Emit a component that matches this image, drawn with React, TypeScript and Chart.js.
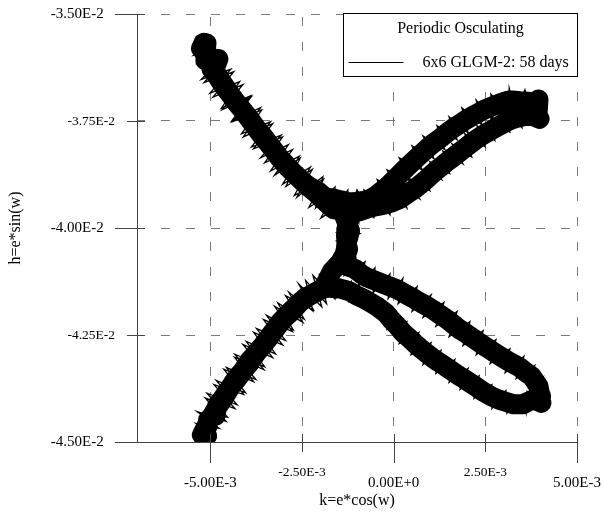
import { useEffect, useRef } from "react";
import { Chart, registerables } from "chart.js";

Chart.register(...registerables);

// Eccentricity-vector trajectory, k = e*cos(w) and h = e*sin(w), both in units of 1e-3.
// upper-left end, upper arc (outer + inner strand), crossing, lower arc (upper + lower strand),
// lower-left branch down and back up, crossing, upper-left branch back up.
const kMilli = [
  -5.12, -5.39, -4.98, -5.45, -4.90, -5.34, -4.93,
  -4.63, -5.17, -4.36, -4.93, -4.11, -4.68, -3.88, -4.40, -3.60, -4.10,
  -3.30, -3.82, -3.03, -3.52, -2.76, -3.25, -2.55, -2.94, -2.22, -2.64,
  -1.93, -2.13,
  -1.60, -1.60, -1.25, -1.22, -1.00, -0.65, -0.81, -0.21,
  -0.45, 0.12, -0.18, 0.45, 0.15, 0.77, 0.50, 1.10, 0.80, 1.40,
  1.18, 1.73, 1.51, 2.03, 1.86, 2.41, 2.25, 2.71, 2.65, 3.12,
  3.15, 3.31, 3.58,
  3.77, 3.88, 4.02, 3.83, 4.05,
  3.91, 3.52, 3.50, 3.12, 3.17, 2.65, 2.76, 2.27, 2.49, 1.94,
  2.13, 1.59, 1.89, 1.34, 1.53, 0.99, 1.31, 0.77, 0.99, 0.44,
  0.71, 0.19, 0.36, -0.05, -0.10, -0.46, -0.54, -0.92, -0.95, -1.25,
  -1.46, -0.92, -1.55, -1.03, -1.46, -1.14,
  -1.35, -0.78, -0.97, -0.51, -0.56, -0.10, -0.15, 0.25, 0.12, 0.64,
  0.50, 1.02, 0.80, 1.37, 1.15, 1.73, 1.51, 2.08, 1.89, 2.44,
  2.25, 2.79, 2.63, 3.17, 3.04, 3.55, 3.34, 3.85, 3.69,
  4.07, 3.83, 4.13, 3.91, 4.07,
  3.99, 3.64, 3.61, 3.47, 3.09, 3.06, 2.68, 2.68, 2.19, 2.33,
  1.81, 2.03, 1.51, 1.67, 1.15, 1.29, 0.80, 1.02, 0.47, 0.69,
  0.15, 0.36, -0.18, 0.06, -0.48, -0.37, -0.81, -0.78, -1.22, -1.16,
  -1.55, -1.57,
  -1.60, -2.20, -1.96, -2.59, -2.19, -2.95, -2.48, -3.25, -2.76, -3.55,
  -3.03, -3.82, -3.30, -4.11, -3.54, -4.34, -3.82, -4.63, -4.09, -4.90,
  -4.33, -5.14, -4.57,
  -5.36, -4.76, -5.39, -4.87, -5.31, -5.04, -5.42, -4.74, -5.20,
  -4.53, -5.09, -4.27, -4.84, -4.04, -4.56, -3.76, -4.33, -3.52, -4.02,
  -3.22, -3.74, -2.95, -3.47, -2.74, -3.16, -2.44, -2.86, -2.20, -2.40,
  -1.83, -2.03,
  -1.33, -1.60, -1.08, -1.52, -1.05, -1.55, -1.03, -1.44,
  -1.28, -1.99, -1.59, -2.31, -1.91, -2.71, -2.27, -3.03, -2.57, -3.36,
  -2.87, -3.63, -3.07, -3.88, -3.36, -4.15, -3.63, -4.42, -3.90, -4.70,
  -4.20, -5.01, -4.44, -5.25, -4.69, -5.34, -4.93, -5.28,
];

const hMilli = [
  -35.89, -35.72, -35.63, -35.96, -35.84, -36.14, -36.03,
  -36.07, -36.60, -36.35, -36.94, -36.65, -37.24, -36.93, -37.52, -37.24, -37.87,
  -37.56, -38.15, -37.87, -38.48, -38.17, -38.77, -38.37, -39.03, -38.63, -39.28,
  -38.80, -39.53,
  -39.04, -39.60, -39.11, -39.69, -39.11, -39.62, -39.11, -39.41,
  -38.87, -39.18, -38.64, -38.90, -38.36, -38.64, -38.08, -38.38, -37.85, -38.17,
  -37.61, -37.94, -37.40, -37.78, -37.19, -37.59, -37.01, -37.45, -36.87, -37.31,
  -36.73, -37.31, -36.77,
  -37.33, -36.84, -37.15, -37.47, -37.33,
  -37.57, -37.13, -37.66, -37.22, -37.76, -37.43, -37.96, -37.61, -38.10, -37.80,
  -38.34, -38.03, -38.50, -38.20, -38.73, -38.45, -38.87, -38.62, -39.13, -38.85,
  -39.32, -38.99, -39.53, -39.13, -39.69, -39.23, -39.76, -39.34, -39.88, -39.41,
  -39.99, -40.13, -40.30, -40.41, -40.58, -40.69,
  -41.11, -40.79, -41.37, -40.93, -41.51, -41.07, -41.65, -41.18, -41.77, -41.37,
  -41.95, -41.56, -42.09, -41.74, -42.30, -41.95, -42.54, -42.19, -42.75, -42.40,
  -42.96, -42.61, -43.17, -42.82, -43.38, -43.00, -43.52, -43.21, -43.73,
  -43.49, -43.91, -43.77, -44.10, -43.98,
  -44.19, -43.82, -44.33, -43.91, -44.33, -43.80, -44.22, -43.66, -43.98, -43.45,
  -43.77, -43.28, -43.61, -43.07, -43.40, -42.86, -43.19, -42.68, -42.96, -42.44,
  -42.70, -42.19, -42.37, -41.93, -42.05, -41.65, -41.88, -41.44, -41.72, -41.25,
  -41.63, -41.16,
  -41.66, -41.11, -41.84, -41.31, -41.91, -41.58, -42.20, -41.83, -42.42, -42.14,
  -42.73, -42.44, -43.03, -42.72, -43.31, -43.02, -43.59, -43.30, -43.89, -43.66,
  -44.22, -43.97, -44.52,
  -44.29, -44.68, -44.57, -44.89, -44.82, -44.96, -44.71, -44.45, -44.36,
  -44.42, -43.86, -44.13, -43.56, -43.85, -43.26, -43.54, -42.95, -43.24, -42.65,
  -42.94, -42.35, -42.63, -42.04, -42.38, -41.75, -42.13, -41.50, -41.94, -41.23,
  -41.77, -41.08,
  -40.93, -40.69, -40.55, -40.41, -40.25, -40.11, -39.95, -39.81,
  -39.36, -39.77, -39.12, -39.52, -38.86, -39.24, -38.58, -38.98, -38.32, -38.67,
  -38.05, -38.36, -37.83, -38.11, -37.52, -37.80, -37.19, -37.50, -36.91, -37.20,
  -36.58, -36.85, -36.29, -36.53, -36.04, -36.10, -35.75, -35.61,
];

const kTicks = [-5e-3, -2.5e-3, 0, 2.5e-3, 5e-3];
const kTickMajor = [true, false, true, false, true];
const hTicks = [-3.5e-2, -3.75e-2, -4e-2, -4.25e-2, -4.5e-2];
const hTickMajor = [true, false, true, false, true];

const seriesLabel = "6x6 GLGM-2: 58 days";
const legendTitle = "Periodic Osculating";
const kTitle = "k=e*cos(w)";
const hTitle = "h=e*sin(w)";

const SERIF = "'Liberation Serif', 'Times New Roman', Times, serif";
const AXIS_COLOR = "#444444";
const GRID_COLOR = "#7a7a7a";

const fmt = (v: number) => Number(v).toExponential(2).toUpperCase();

// The trajectory is traced many times over, so the oscillations pile up into a dark band:
// stroke a wide pass along the running mean of the plotted samples under the thin line.
const trackBand = {
  id: "trackBand",
  beforeDatasetsDraw(chart: any) {
    const { ctx, chartArea } = chart;
    const pts = chart.getDatasetMeta(0).data;
    if (!pts || pts.length < 2) return;
    ctx.save();
    ctx.beginPath();
    ctx.rect(chartArea.left, chartArea.top, chartArea.right - chartArea.left, chartArea.bottom - chartArea.top);
    ctx.clip();
    ctx.strokeStyle = "#000000";
    ctx.lineWidth = 20;
    ctx.lineJoin = "round";
    ctx.lineCap = "round";
    ctx.beginPath();
    for (let i = 1; i < pts.length; i++) {
      const mx = (pts[i - 1].x + pts[i].x) / 2;
      const my = (pts[i - 1].y + pts[i].y) / 2;
      if (i === 1) ctx.moveTo(mx, my);
      else ctx.lineTo(mx, my);
    }
    ctx.stroke();
    ctx.restore();
  },
};

// Long/short tick marks crossing the axes
const axisMarks = {
  id: "axisMarks",
  afterDatasetsDraw(chart: any) {
    const { ctx, chartArea, scales } = chart;
    ctx.save();
    ctx.strokeStyle = AXIS_COLOR;
    ctx.lineWidth = 1;
    ctx.beginPath();
    kTicks.forEach((v, i) => {
      const x = Math.round(scales.x.getPixelForValue(v)) + 0.5;
      const out = kTickMajor[i] ? 21 : 10;
      ctx.moveTo(x, chartArea.bottom - 8);
      ctx.lineTo(x, chartArea.bottom + out);
    });
    hTicks.forEach((v, i) => {
      const y = Math.round(scales.y.getPixelForValue(v)) + 0.5;
      const out = hTickMajor[i] ? 22 : 10;
      ctx.moveTo(chartArea.left - out, y);
      ctx.lineTo(chartArea.left + 8, y);
    });
    ctx.stroke();
    ctx.restore();
  },
};

// Boxed legend in the upper-right corner of the plot
const boxedLegend = {
  id: "boxedLegend",
  afterDraw(chart: any) {
    const { ctx, chartArea } = chart;
    const ds = chart.data.datasets[0];
    const w = 234;
    const h = 63;
    const right = Math.round(chartArea.right) + 0.5;
    const left = right - w;
    const top = Math.round(chartArea.top) - 0.5;
    ctx.save();
    ctx.fillStyle = "#ffffff";
    ctx.fillRect(left, top, w, h);
    ctx.strokeStyle = "#000000";
    ctx.lineWidth = 1;
    ctx.strokeRect(left, top, w, h);
    ctx.fillStyle = "#000000";
    ctx.font = `16px ${SERIF}`;
    ctx.textBaseline = "middle";
    ctx.textAlign = "center";
    ctx.fillText(legendTitle, left + w / 2, top + 15);
    ctx.beginPath();
    ctx.strokeStyle = ds.borderColor;
    ctx.moveTo(left + 5, top + 49);
    ctx.lineTo(left + 60, top + 49);
    ctx.stroke();
    ctx.textAlign = "left";
    ctx.fillText(ds.label, left + 79, top + 49);
    ctx.restore();
  },
};

export default function App() {
  const canvasRef = useRef<HTMLCanvasElement>(null);

  useEffect(() => {
    const canvas = canvasRef.current;
    if (!canvas) return;
    const points = kMilli.map((k, i) => ({ x: k * 1e-3, y: hMilli[i] * 1e-3 }));

    const chart = new Chart(canvas, {
      type: "scatter",
      data: {
        datasets: [
          {
            label: seriesLabel,
            data: points,
            showLine: true,
            borderColor: "#000000",
            borderWidth: 1.3,
            pointRadius: 0,
            tension: 0,
          },
        ],
      },
      options: {
        responsive: false,
        maintainAspectRatio: false,
        animation: false,
        devicePixelRatio: 1,
        layout: { padding: { left: 0, right: 26, top: 14, bottom: 0 } },
        plugins: {
          legend: { display: false },
          tooltip: { enabled: false },
          title: { display: false },
        },
        events: [],
        scales: {
          x: {
            type: "linear",
            position: "bottom",
            min: -7e-3,
            max: 5e-3,
            afterBuildTicks: (scale: any) => {
              scale.ticks = kTicks.map((v) => ({ value: v }));
            },
            afterFit: (scale: any) => {
              scale.height = 71;
              scale.paddingLeft = 0;
              scale.paddingRight = 0;
            },
            grid: { color: GRID_COLOR, lineWidth: 1, drawTicks: false },
            border: { display: true, color: AXIS_COLOR, width: 1, dash: [9, 16], dashOffset: 22 },
            ticks: {
              padding: 22,
              color: "#000000",
              autoSkip: false,
              maxRotation: 0,
              minRotation: 0,
              font: (c: any) =>
                kTickMajor[c.index]
                  ? { family: SERIF, size: 15, lineHeight: 2.57 }
                  : { family: SERIF, size: 13.5, lineHeight: 1.2 },
              callback: (v: any) => fmt(v),
            },
            title: {
              display: true,
              text: kTitle,
              color: "#000000",
              font: { family: SERIF, size: 16 },
              padding: { top: 0, bottom: 3 },
            },
          },
          y: {
            type: "linear",
            position: "left",
            min: -4.5e-2,
            max: -3.5e-2,
            afterBuildTicks: (scale: any) => {
              scale.ticks = hTicks.map((v) => ({ value: v }));
            },
            afterFit: (scale: any) => {
              scale.width = 137;
              scale.paddingTop = 0;
              scale.paddingBottom = 0;
            },
            grid: { color: GRID_COLOR, lineWidth: 1, drawTicks: false },
            border: { display: true, color: AXIS_COLOR, width: 1, dash: [9, 16], dashOffset: 2 },
            ticks: {
              padding: 22,
              color: "#000000",
              autoSkip: false,
              font: (c: any) =>
                hTickMajor[c.index]
                  ? { family: SERIF, size: 15 }
                  : { family: SERIF, size: 13.5 },
              callback: (v: any, i: number) => fmt(v) + (hTickMajor[i] ? "   " : ""),
            },
            title: {
              display: true,
              text: hTitle,
              color: "#000000",
              font: { family: SERIF, size: 16 },
              padding: { top: 6, bottom: 0 },
            },
          },
        },
      },
      plugins: [trackBand, axisMarks, boxedLegend],
    } as any);

    return () => chart.destroy();
  }, []);

  return (
    <div style={{ position: "absolute", left: 0, top: 0, width: 603, height: 513, background: "#ffffff" }}>
      <canvas ref={canvasRef} width={603} height={513} style={{ display: "block", width: 603, height: 513 }} />
    </div>
  );
}
